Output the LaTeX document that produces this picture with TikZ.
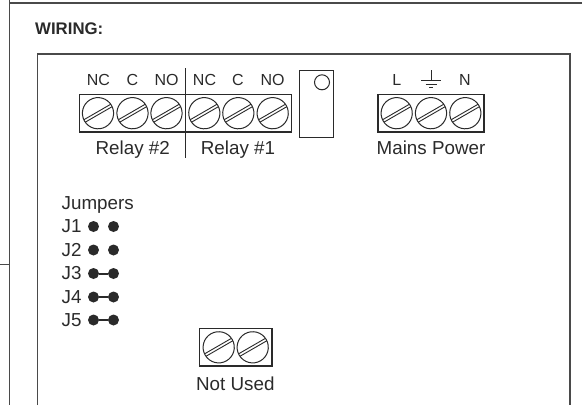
\documentclass[tikz,border=0pt]{standalone}
\usepackage{fontspec}
\setmainfont{Liberation Sans}
\definecolor{ink}{HTML}{2A2A2A}
\definecolor{frame}{HTML}{4A4A4A}
\newcommand{\fsz}[1]{\fontsize{#1}{#1}\selectfont}
\tikzset{
  x=1pt,y=-1pt,
  lbl/.style={inner sep=0pt,text=ink,font=\fsz{16}},
  biglbl/.style={inner sep=0pt,text=ink,font=\fsz{18.8}},
  wire/.style={draw=ink,line width=1.1pt},
  framel/.style={draw=frame,line width=1.2pt},
  block/.style={draw=ink,line width=1.2pt,fill=white},
  pin/.style={circle,fill=ink,minimum size=11pt,inner sep=0pt},
  link/.style={draw=ink,line width=2pt},
  screw/.pic={
    \draw[draw=ink,line width=1pt] (0,0) circle[radius=15.6];
    \draw[draw=ink,line width=0.9pt] (-15.4,1.4) -- (15.4,1.4) (-15.4,-1.4) -- (15.4,-1.4);
  }
}
\begin{document}
\begin{tikzpicture}
\useasboundingbox (0,0) rectangle (586,405);
% outer frame
\coordinate (ot) at (9.5,3);
\coordinate (or) at (582,3);
\coordinate (ob) at (9.5,405);
\coordinate (stubl) at (0,264.5);
\coordinate (stubr) at (9.5,264.5);
\coordinate (ot0) at (9.5,0);
\draw[framel] (or) -- (ot);
\draw[framel] (ot0) -- (ob);
\draw[framel,line width=0.9pt] (stubl) -- (stubr);
% inner frame
\coordinate (ibl) at (37.5,405);
\coordinate (itl) at (37.5,54);
\coordinate (itr) at (570,54);
\coordinate (ibr) at (570,405);
\draw[framel] (ibl) -- (itl) -- (itr) -- (ibr);
\node[inner sep=0pt,text=ink,font=\fsz{16.8}\bfseries,anchor=west] (wiring) at (35,29) {WIRING:};
% relay block
\node[block,minimum width=212pt,minimum height=37.5pt,inner sep=0pt] (relayblock) at (185.5,113.2) {};
\foreach \x in {98,132.5,166.5,204.3,238.3,272.7} \pic[rotate=30] at (\x,113.2) {screw};
\coordinate (divt) at (185.5,68);
\coordinate (divb) at (185.5,158);
\draw[wire] (divt) -- (divb);
\node[lbl] (nc2) at (98.5,79.5) {NC};
\node[lbl] (c2) at (132.5,79.5) {C};
\node[lbl] (no2) at (166.5,79.5) {NO};
\node[lbl] (nc1) at (204.5,79.5) {NC};
\node[lbl] (c1) at (238,79.5) {C};
\node[lbl] (no1) at (272.5,79.5) {NO};
\node[biglbl,anchor=base] (r2) at (132.7,154) {Relay \#2};
\node[biglbl,anchor=base] (r1) at (238,154) {Relay \#1};
% relay component
\node[block,minimum width=34pt,minimum height=67pt,inner sep=0pt] (comp) at (316.5,104) {};
\node[draw=ink,line width=1pt,circle,minimum size=15pt,inner sep=0pt] (hole) at (322,82.3) {};
% mains
\node[block,minimum width=106pt,minimum height=37.5pt,inner sep=0pt] (mainsblock) at (431,113.2) {};
\foreach \x in {396.7,431,465.3} \pic[rotate=30] at (\x,113.2) {screw};
\node[lbl] (L) at (396.7,79.5) {L};
\node[lbl] (N) at (465,79.5) {N};
\draw[draw=ink,line width=1pt] (431,70) -- (431,80.5) (421,80.5) -- (441,80.5) (425.5,84) -- (436.5,84) (429,87) -- (433,87);
\node[biglbl,anchor=base] (mains) at (431,154) {Mains Power};
% jumpers
\node[biglbl,anchor=base west] (jumpers) at (61.5,209.5) {Jumpers};
\foreach \n/\y in {1/226.5,2/250,3/273.5,4/297,5/320}{
  \node[biglbl,anchor=west] (j\n) at (61.5,\y) {J\n};
  \node[pin] (a\n) at (93.5,\y) {};
  \node[pin] (b\n) at (113.5,\y) {};
}
\foreach \n in {3,4,5} \draw[link] (a\n) -- (b\n);
% not used
\node[block,minimum width=72.5pt,minimum height=37.5pt,inner sep=0pt] (nublock) at (235.7,347.3) {};
\foreach \x in {218.7,252.7} \pic[rotate=30] at (\x,347.3) {screw};
\node[biglbl,anchor=base] (nu) at (235.3,390) {Not Used};
\end{tikzpicture}
\end{document}
